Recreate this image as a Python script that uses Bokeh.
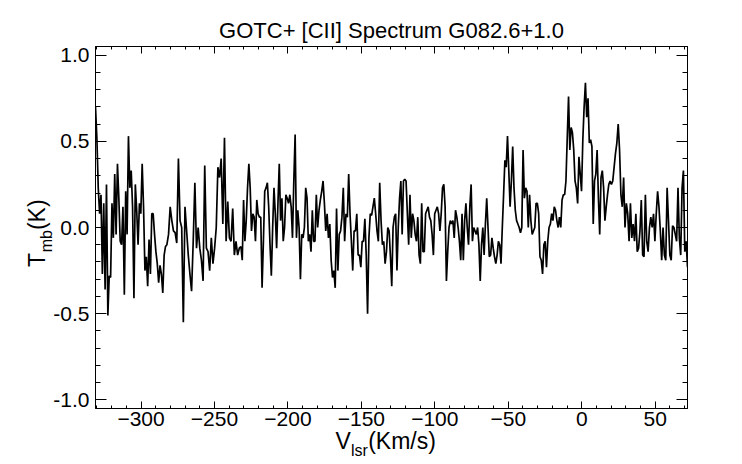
import numpy as np
from bokeh.plotting import figure
from bokeh.models import Range1d, LinearAxis, FixedTicker, PrintfTickFormatter
from bokeh.embed import file_html
from bokeh.resources import INLINE

# ---------------- data ----------------
title_text = "GOTC+ [CII] Spectrum G082.6+1.0"
x_label_main = "V\u2002\u2005(Km/s)"
x_label_sub = "lsr"
y_label_main = "T\u2002\u2002(K)"
y_label_sub = "mb"

# velocity edges of the successive stretches of the spectrum (km/s)
seg_edges = [-331.0, -282.4, -232.0, -181.6, -131.1, -80.6, -30.2, 20.2, 72.0]

t_seg1 = [0.70, 0.52, 0.23, 0.08, 0.19, -0.27, 0.14, -0.36, 0.25, -0.51, -0.28, -0.29, 0.14,
          -0.06, 0.31, -0.04, 0.37, 0.17, -0.08, -0.10, 0.12, -0.39, 0.21, -0.04, 0.53, 0.23,
          0.33, 0.12, -0.41, 0.25, 0.10, -0.10, 0.14, 0.08, 0.37, 0.12, -0.25, -0.17, -0.34,
          -0.07, -0.27, 0.08, 0.08, -0.04, -0.14, -0.21, -0.32, -0.22, -0.27, -0.38, -0.16, -0.11]
t_seg2 = [-0.10, -0.04, 0.12, 0.04, -0.02, -0.03, -0.09, 0.40, 0.04, 0.0, -0.55, 0.12, -0.02,
          -0.16, -0.27, -0.37, -0.08, 0.26, -0.12, 0.0, -0.12, -0.19, -0.31, 0.36, -0.12, -0.14,
          -0.25, -0.06, -0.21, -0.12, 0.0, 0.35, 0.29, 0.40, 0.02, 0.52, -0.08, 0.15, -0.06,
          -0.08, 0.11, -0.16, -0.08, -0.16, -0.12]
t_seg3 = [-0.11, -0.19, 0.16, -0.08, 0.04, 0.23, 0.37, 0.23, -0.02, 0.08, 0.06, -0.08, 0.16,
          0.08, 0.06, 0.06, -0.35, -0.08, 0.21, 0.23, 0.26, 0.12, -0.10, -0.28, 0.0, 0.23, 0.08,
          -0.12, 0.14, 0.37, 0.04, 0.17, -0.08, 0.0, 0.19, 0.17, 0.14, 0.19, 0.12, -0.06, 0.27,
          0.54, -0.06, 0.10, 0.0, -0.30, -0.04, -0.06, 0.0, 0.23, 0.17, -0.08, -0.04, -0.14,
          0.10, -0.08]
t_seg4 = [-0.08, 0.19, 0.0, 0.10, 0.16, 0.21, 0.27, 0.14, -0.02, 0.08, -0.06, 0.02, -0.19,
          -0.29, -0.25, -0.35, 0.11, -0.25, -0.04, -0.02, 0.06, 0.23, -0.08, 0.08, 0.06, 0.31,
          0.08, -0.08, -0.25, -0.02, -0.02, 0.08, -0.16, -0.16, -0.23, -0.08, -0.08, 0.05,
          -0.16, -0.50, -0.06, 0.08, 0.07, 0.12, 0.17, 0.08, -0.02, -0.08, 0.26, 0.04, -0.10,
          -0.08, -0.21, -0.14, 0.0]
t_seg5 = [-0.02, -0.17, -0.34, 0.0, 0.06, 0.08, -0.25, 0.0, 0.17, 0.27, -0.04, 0.27, 0.28,
          0.27, 0.08, -0.10, 0.19, -0.06, 0.08, 0.04, -0.04, -0.08, 0.06, -0.16, -0.21, 0.14,
          -0.14, -0.14, 0.08, 0.10, 0.12, 0.06, 0.04, -0.04, -0.16, 0.08, 0.10, 0.12, 0.08,
          -0.02, 0.08, 0.23, 0.25, 0.12, -0.31, -0.14, 0.0, 0.04, 0.02, 0.04, -0.06, 0.10,
          0.06, 0.0, -0.08, -0.19, 0.08]
t_seg6 = [-0.19, 0.04, 0.14, 0.0, -0.10, 0.12, 0.25, -0.08, 0.0, -0.02, -0.04, 0.0, -0.10,
          -0.31, -0.10, 0.0, -0.16, 0.02, 0.17, 0.0, -0.17, -0.16, -0.06, -0.12, -0.17, -0.21,
          -0.16, -0.08, -0.10, -0.21, 0.0, 0.19, 0.39, 0.35, 0.53, 0.33, 0.12, 0.27, 0.47,
          0.23, 0.10, 0.04, 0.02, 0.0, -0.03, 0.0, 0.45, 0.17, 0.23, 0.21, 0.0, 0.19, 0.04,
          -0.04, -0.02, 0.0, 0.14]
t_seg7 = [0.14, 0.08, -0.17, -0.19, -0.27, -0.10, -0.08, -0.23, -0.08, 0.0, 0.02, 0.08, 0.04,
          0.12, 0.10, 0.04, 0.0, 0.06, 0.0, 0.16, 0.19, 0.19, 0.27, 0.52, 0.76, 0.45, 0.58,
          0.55, 0.45, 0.27, 0.23, 0.14, 0.41, 0.31, 0.21, 0.51, 0.70, 0.84, 0.64, 0.75, 0.49,
          0.51, 0.47, 0.02, 0.27, 0.31, 0.45, 0.17, -0.04, 0.29, 0.33, 0.23, 0.04, 0.12, 0.19,
          0.25, 0.27]
t_seg8 = [0.25, 0.27, 0.35, 0.43, 0.49, 0.60, 0.45, 0.19, 0.12, 0.29, 0.0, 0.14, 0.08, -0.08,
          0.14, -0.06, 0.02, -0.08, 0.08, -0.14, -0.12, -0.02, 0.16, -0.16, -0.17, 0.19, -0.08,
          -0.14, 0.0, 0.06, 0.0, 0.08, -0.08, 0.08, 0.21, 0.12, -0.02, -0.19, 0.0, -0.16,
          -0.19, 0.23, 0.04, -0.16, -0.19, 0.01, 0.0, -0.04, -0.08, 0.23, -0.06, -0.16, 0.23,
          0.33, -0.14, -0.08, -0.23]

x_ticks = [-300, -250, -200, -150, -100, -50, 0, 50]
y_ticks = [-1.0, -0.5, 0.0, 0.5, 1.0]

# ---------------- assemble spectrum ----------------
segments = [t_seg1, t_seg2, t_seg3, t_seg4, t_seg5, t_seg6, t_seg7, t_seg8]
vel, tmb = [], []
for i, s in enumerate(segments):
    last = (i == len(segments) - 1)
    v = np.linspace(seg_edges[i], seg_edges[i + 1], len(s), endpoint=last)
    vel.extend(v.tolist())
    tmb.extend(s)

# ---------------- figure ----------------
FONT = "Liberation Sans"
W, H = 742, 464
BL, BR, BT, BB = 95, 55, 46, 56

p = figure(width=W, height=H, output_backend="svg", toolbar_location=None,
           x_range=Range1d(-331.0, 72.0), y_range=Range1d(-1.05, 1.05),
           min_border_left=BL, min_border_right=BR, min_border_top=BT, min_border_bottom=BB,
           x_axis_location=None, y_axis_location=None)
p.xgrid.visible = False
p.ygrid.visible = False
p.outline_line_color = "black"
p.outline_line_width = 1
p.background_fill_color = "white"
p.border_fill_color = "white"

p.title.text = title_text
p.title.text_font = FONT
p.title.text_font_size = "22px"
p.title.text_font_style = "normal"
p.title.text_color = "black"
p.title.align = "center"
p.title.standoff = 7

x_minor = np.arange(-330, 71, 10).tolist()
y_minor = np.round(np.arange(-1.0, 1.01, 0.1), 2).tolist()


def tick_axis(ticks, minor, maj_in, min_in, show, fmt=None):
    ax = LinearAxis(ticker=FixedTicker(ticks=ticks, minor_ticks=minor))
    if fmt is not None:
        ax.formatter = fmt
    ax.major_tick_in = maj_in
    ax.major_tick_out = 0
    ax.minor_tick_in = min_in
    ax.minor_tick_out = 0
    ax.axis_line_color = "black"
    ax.major_tick_line_color = "black"
    ax.minor_tick_line_color = "black"
    ax.major_label_text_font = FONT
    ax.major_label_text_color = "black"
    ax.major_label_text_font_size = "21px"
    if not show:
        ax.major_label_overrides = {t: "" for t in ticks}
        ax.major_label_standoff = 0
    return ax


def label_axis(text, size, standoff):
    ax = LinearAxis(ticker=FixedTicker(ticks=[], minor_ticks=[]))
    ax.axis_line_color = None
    ax.major_tick_line_color = None
    ax.minor_tick_line_color = None
    ax.major_tick_in = 0
    ax.major_tick_out = 0
    ax.minor_tick_in = 0
    ax.minor_tick_out = 0
    ax.major_label_standoff = 0
    ax.axis_label = text
    ax.axis_label_text_font = FONT
    ax.axis_label_text_font_size = f"{size}px"
    ax.axis_label_text_font_style = "normal"
    ax.axis_label_text_color = "black"
    ax.axis_label_standoff = standoff
    return ax


xb = tick_axis(x_ticks, x_minor, 7, 3, True)
xb.major_label_standoff = 3
p.add_layout(xb, "below")
p.add_layout(label_axis(x_label_main + "\u2002", 23, -1), "below")
p.add_layout(label_axis(x_label_sub + "\u2003\u2003\u2003\u2003", 16, -15), "below")
p.add_layout(tick_axis(x_ticks, x_minor, 7, 3, False), "above")

yl = tick_axis(y_ticks, y_minor, 11, 5, True, PrintfTickFormatter(format="%.1f"))
yl.major_label_standoff = 6
p.add_layout(yl, "left")
p.add_layout(label_axis(y_label_sub + "\u2003\u2002\u2009", 16, -4), "left")
p.add_layout(label_axis(y_label_main + "\u2002", 23, -15), "left")
p.add_layout(tick_axis(y_ticks, y_minor, 11, 5, False), "right")

p.line(vel, tmb, line_color="black", line_width=1.7)

open("out.html", "w").write(file_html(p, INLINE))
